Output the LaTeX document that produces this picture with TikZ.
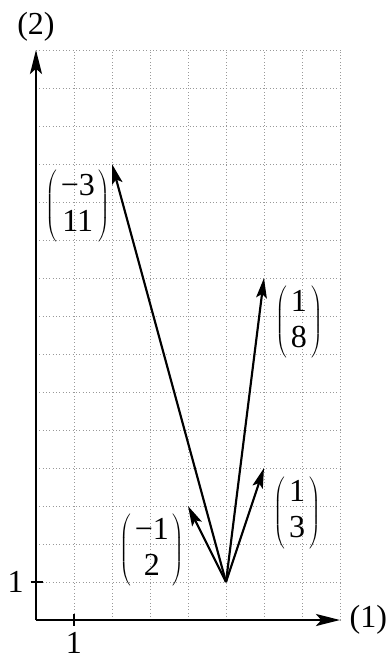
\documentclass[tikz,border=0pt]{standalone}
\usepackage{fontspec}
\setmainfont{Liberation Serif}
\usetikzlibrary{positioning, arrows.meta}
\tikzset{
  every node/.style={font=\fontsize{24}{27}\selectfont},
  gridline/.style={gray!80, dotted, line width=0.5pt},
  axis/.style={line width=1.8pt, -{Stealth[length=18pt, width=9pt, inset=4pt]}},
  vec/.style={line width=1.6pt, -{Stealth[length=15pt, width=8pt, inset=3pt]}},
  tickmark/.style={line width=1.6pt},
  colvec/.style={inner sep=0pt},
  axlabel/.style={inner sep=1pt},
}
\setlength{\tabcolsep}{3pt}
\newcommand{\colv}[2]{$\left(\mbox{\begin{tabular}{c}#1\\#2\end{tabular}}\right)$}

\begin{document}
\begin{tikzpicture}
\useasboundingbox (-0.947,-0.868) rectangle (9.368,16.316);

% grid and axes
\draw[gridline] (0,0) grid (8,15);
\coordinate (O) at (0,0);
\coordinate (X) at (8,0);
\coordinate (Y) at (0,15);
\draw[axis] (O) -- (X);
\draw[axis] (O) -- (Y);
\node[axlabel, right=6pt of X] (xlab) {(1)};
\node[axlabel, above=5pt of Y] (ylab) {(2)};

% ticks
\coordinate (tx1) at (1,0.17);
\coordinate (tx2) at (1,-0.17);
\coordinate (ty1) at (-0.14,1);
\coordinate (ty2) at (0.19,1);
\draw[tickmark] (tx1) -- (tx2);
\draw[tickmark] (ty1) -- (ty2);
\node[axlabel, below=3pt of tx2] (xone) {1};
\node[axlabel, left=4pt of ty1] (yone) {1};

% vectors from P
\coordinate (P) at (5,1);
\coordinate (A) at (2,12);
\coordinate (B) at (6,9);
\coordinate (C) at (6,4);
\coordinate (D) at (4,3);
\draw[vec] (P) -- (A);
\draw[vec] (P) -- (B);
\draw[vec] (P) -- (C);
\draw[vec] (P) -- (D);

\node[colvec, below left=0.15cm and 0.03cm of A]  (la) {\colv{−3}{11}};
\node[colvec, below right=0.2cm and 0.29cm of B]  (lb) {\colv{1}{8}};
\node[colvec, below right=0.22cm and 0.24cm of C] (lc) {\colv{1}{3}};
\node[colvec, below left=0.2cm and 0.08cm of D]   (ld) {\colv{−1}{2}};

\end{tikzpicture}
\end{document}
